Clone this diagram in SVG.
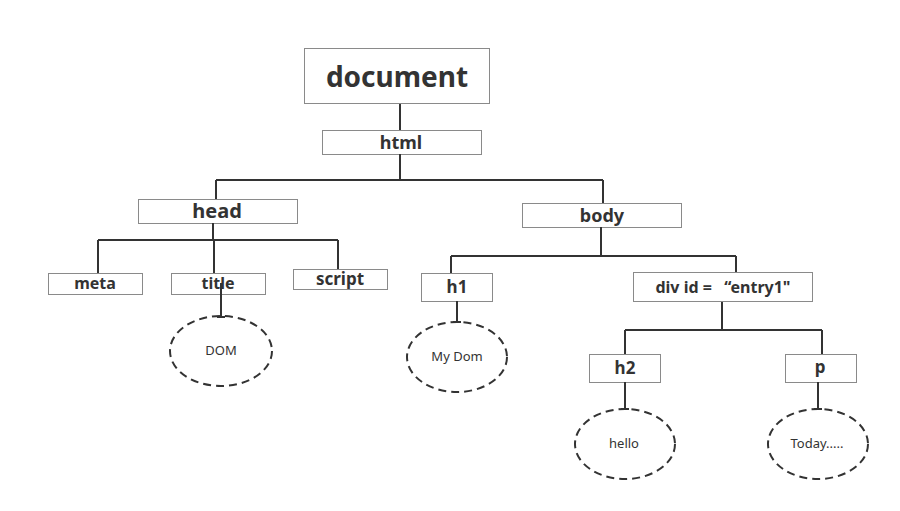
<svg xmlns="http://www.w3.org/2000/svg" width="900" height="511" viewBox="0 0 900 511">
<style>
.box{fill:#fff;stroke:#8a8a8a;stroke-width:1}
.lbl{font-family:"Noto Sans","DejaVu Sans",sans-serif;font-weight:bold;fill:#333;text-anchor:middle}
.leaf{fill:#fff;stroke:#333;stroke-width:2;stroke-dasharray:8 5}
.lt{font-family:"Noto Sans","DejaVu Sans",sans-serif;font-size:13px;fill:#333;text-anchor:middle}
.con{fill:none;stroke:#333;stroke-width:2}
</style>
<rect width="900" height="511" fill="#fff"/>
<g id="document"><rect class="box" x="304.500" y="48.500" width="185" height="55"/><text class="lbl" x="397" y="87" font-size="28">document</text></g>
<g id="html"><rect class="box" x="322.500" y="130.500" width="159" height="24"/><text class="lbl" x="401" y="149" font-size="18">html</text></g>
<g id="head"><rect class="box" x="138.500" y="199.500" width="159" height="24"/><text class="lbl" x="217" y="218" font-size="20">head</text></g>
<g id="body"><rect class="box" x="522.500" y="203.500" width="159" height="24"/><text class="lbl" x="602" y="222" font-size="18">body</text></g>
<g id="meta"><rect class="box" x="48.500" y="273.500" width="94" height="21"/><text class="lbl" x="95" y="289" font-size="16">meta</text></g>
<g id="title"><rect class="box" x="171.500" y="273.500" width="94" height="21"/><text class="lbl" x="218" y="289" font-size="16">title</text></g>
<g id="script"><rect class="box" x="293.500" y="269.500" width="94" height="20"/><text class="lbl" x="340" y="285" font-size="17">script</text></g>
<g id="dom"><ellipse class="leaf" cx="221" cy="351" rx="51" ry="35"/><text class="lt" x="221" y="355">DOM</text></g>
<g id="h1"><rect class="box" x="421.500" y="273.500" width="71" height="28"/><text class="lbl" x="457" y="293" font-size="17">h1</text></g>
<g id="div"><rect class="box" x="633.500" y="272.500" width="179" height="29"/><text class="lbl" x="723" y="293" font-size="16" xml:space="preserve">div id =   “entry1"</text></g>
<g id="mydom"><ellipse class="leaf" cx="457" cy="357" rx="50" ry="35"/><text class="lt" x="457" y="361">My Dom</text></g>
<g id="h2"><rect class="box" x="589.500" y="354.500" width="71" height="28"/><text class="lbl" x="625" y="374" font-size="17">h2</text></g>
<g id="p"><rect class="box" x="785.500" y="354.500" width="71" height="28"/><text class="lbl" x="820" y="373" font-size="17">p</text></g>
<g id="hello"><ellipse class="leaf" cx="625" cy="444" rx="50" ry="35"/><text class="lt" x="624" y="448">hello</text></g>
<g id="today"><ellipse class="leaf" cx="818" cy="444" rx="50" ry="35"/><text class="lt" x="817" y="448">Today.....</text></g>
<g id="connectors" class="con">
<path d="M400 104V130"/>
<path d="M400 154V180M216 180H603M216 180V199M603 180V203"/>
<path d="M213 223V240M98 240H338M98 240V273M214 240V273M338 240V269"/>
<path d="M221 283V317M217 317H225"/>
<path d="M601 227V256M451 256H736M451 256V273M736 256V272"/>
<path d="M457 301V322M453 322H461"/>
<path d="M722 302V330M625 330H822M625 330V354M822 330V354"/>
<path d="M625 382V409M621 409H629"/>
<path d="M818 382V409M814 409H822"/>
</g>
</svg>
